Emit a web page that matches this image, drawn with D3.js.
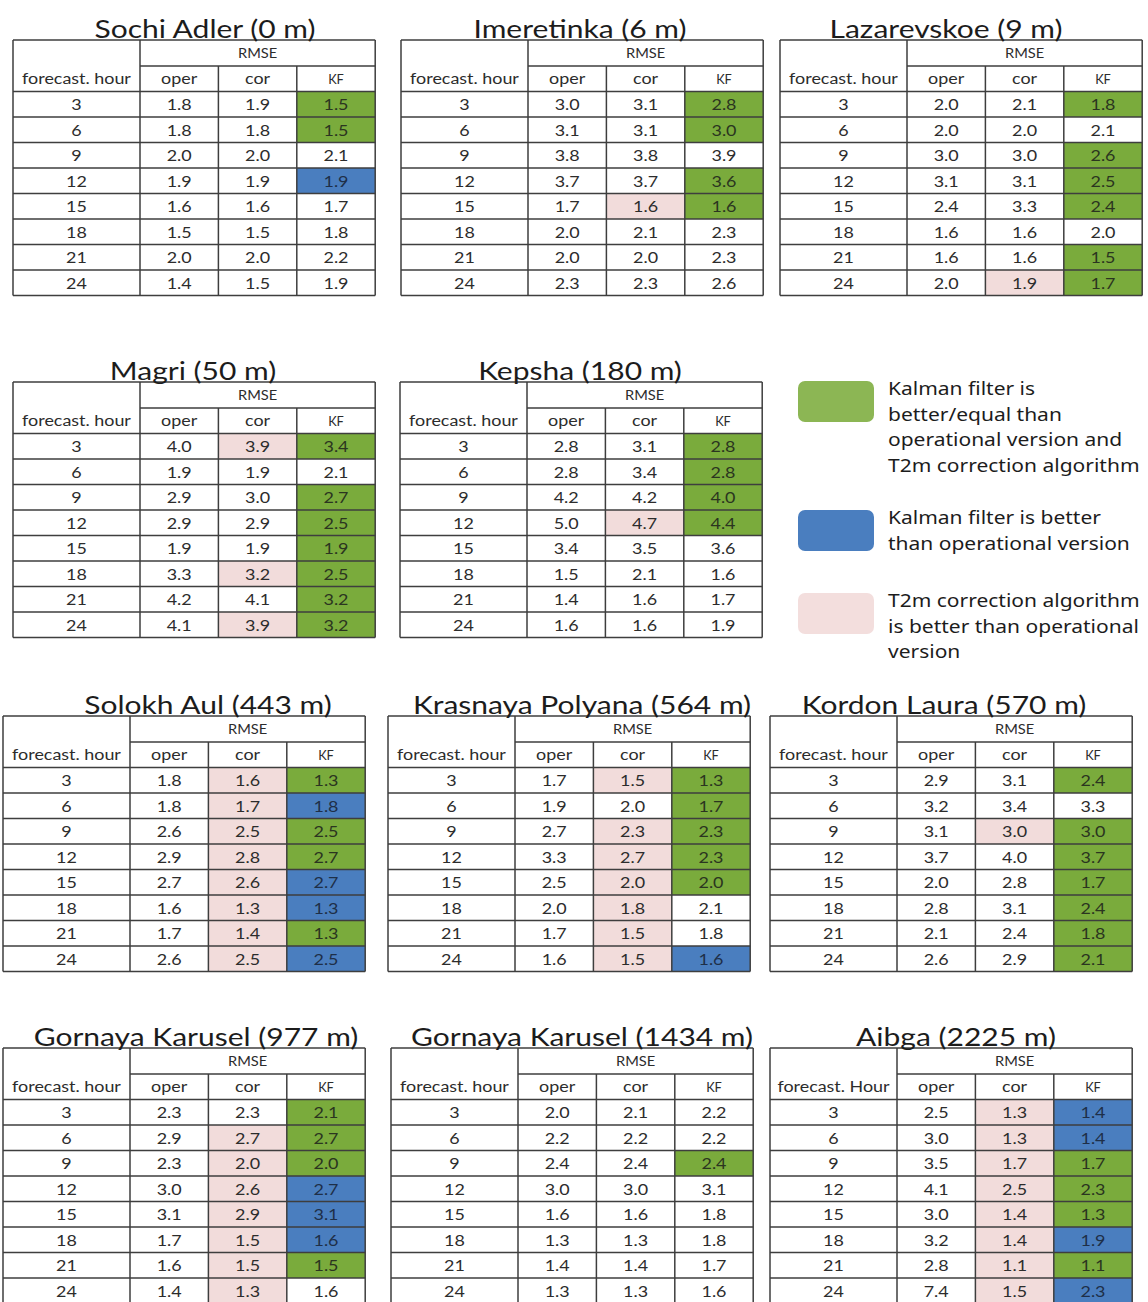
<!DOCTYPE html>
<html><head><meta charset="utf-8">
<script src="https://cdn.jsdelivr.net/npm/d3@7"></script>
<style>body{margin:0;background:#fff}svg{display:block}</style></head>
<body><svg id="c" width="1148" height="1302"></svg>
<script>
// ---------- DATA ----------
const stations = [
  "Sochi Adler (0 m)", "Imeretinka (6 m)", "Lazarevskoe (9 m)",
  "Magri (50 m)", "Kepsha (180 m)",
  "Solokh Aul (443 m)", "Krasnaya Polyana (564 m)", "Kordon Laura (570 m)",
  "Gornaya Karusel (977 m)", "Gornaya Karusel (1434 m)", "Aibga (2225 m)"
];
const hourHeaders = [
  "forecast. hour","forecast. hour","forecast. hour","forecast. hour","forecast. hour",
  "forecast. hour","forecast. hour","forecast. hour","forecast. hour","forecast. hour","forecast. Hour"
];
const hours = [3, 6, 9, 12, 15, 18, 21, 24];
const groupLabel = "RMSE";
const columns = ["oper", "cor", "KF"];

const operRMSE = [
  [1.8,1.8,2.0,1.9,1.6,1.5,2.0,1.4],
  [3.0,3.1,3.8,3.7,1.7,2.0,2.0,2.3],
  [2.0,2.0,3.0,3.1,2.4,1.6,1.6,2.0],
  [4.0,1.9,2.9,2.9,1.9,3.3,4.2,4.1],
  [2.8,2.8,4.2,5.0,3.4,1.5,1.4,1.6],
  [1.8,1.8,2.6,2.9,2.7,1.6,1.7,2.6],
  [1.7,1.9,2.7,3.3,2.5,2.0,1.7,1.6],
  [2.9,3.2,3.1,3.7,2.0,2.8,2.1,2.6],
  [2.3,2.9,2.3,3.0,3.1,1.7,1.6,1.4],
  [2.0,2.2,2.4,3.0,1.6,1.3,1.4,1.3],
  [2.5,3.0,3.5,4.1,3.0,3.2,2.8,7.4]
];
const corRMSE = [
  [1.9,1.8,2.0,1.9,1.6,1.5,2.0,1.5],
  [3.1,3.1,3.8,3.7,1.6,2.1,2.0,2.3],
  [2.1,2.0,3.0,3.1,3.3,1.6,1.6,1.9],
  [3.9,1.9,3.0,2.9,1.9,3.2,4.1,3.9],
  [3.1,3.4,4.2,4.7,3.5,2.1,1.6,1.6],
  [1.6,1.7,2.5,2.8,2.6,1.3,1.4,2.5],
  [1.5,2.0,2.3,2.7,2.0,1.8,1.5,1.5],
  [3.1,3.4,3.0,4.0,2.8,3.1,2.4,2.9],
  [2.3,2.7,2.0,2.6,2.9,1.5,1.5,1.3],
  [2.1,2.2,2.4,3.0,1.6,1.3,1.4,1.3],
  [1.3,1.3,1.7,2.5,1.4,1.4,1.1,1.5]
];
const kfRMSE = [
  [1.5,1.5,2.1,1.9,1.7,1.8,2.2,1.9],
  [2.8,3.0,3.9,3.6,1.6,2.3,2.3,2.6],
  [1.8,2.1,2.6,2.5,2.4,2.0,1.5,1.7],
  [3.4,2.1,2.7,2.5,1.9,2.5,3.2,3.2],
  [2.8,2.8,4.0,4.4,3.6,1.6,1.7,1.9],
  [1.3,1.8,2.5,2.7,2.7,1.3,1.3,2.5],
  [1.3,1.7,2.3,2.3,2.0,2.1,1.8,1.6],
  [2.4,3.3,3.0,3.7,1.7,2.4,1.8,2.1],
  [2.1,2.7,2.0,2.7,3.1,1.6,1.5,1.6],
  [2.2,2.2,2.4,3.1,1.8,1.8,1.7,1.6],
  [1.4,1.4,1.7,2.3,1.3,1.9,1.1,2.3]
];
// cell categories: G = KF better/equal than both, B = KF better than oper, P = cor better than oper
const corMarks = [
  "........", "....P...", ".......P", "P....P.P", "...P....",
  "PPPPPPPP", "P.PPPPPP", "..P.....", ".PPPPPPP", "........", "PPPPPPPP"
];
const kfMarks = [
  "GG.B....", "GG.GG...", "G.GGG.GG", "G.GGGGGG", "GGGG....",
  "GBGGBBGB", "GGGGG..B", "G.GGGGGG", "GGGBBBG.", "..G.....", "BBGGGBGB"
];
const legendKeys = ["G", "B", "P"];
const legendTexts = [
  ["Kalman filter  is", "better/equal than", "operational version and", "T2m correction algorithm"],
  ["Kalman filter  is better", "than operational version"],
  ["T2m correction algorithm", "is better than operational", "version"]
];

// ---------- STYLE / LAYOUT ----------
const cellFill = d3.scaleOrdinal().domain(["G","B","P","."]).range(["#7aab3c","#4a7ebf","#f2dcdb","none"]);
const legendFill = d3.scaleOrdinal().domain(legendKeys).range(["#8cb654","#4a7ebf","#f3dedd"]);
const tablePos = [
  [13,40],[401,40],[780,40],
  [13,382],[400,382],
  [3,716],[388,716],[770,716],
  [3,1048],[391,1048],[770,1048]
];
const titleCx = [205, 580, 946, 193, 580, 208, 582, 944, 196, 582, 956];
const firstW = 127, colW = 78.4, h1 = 26, h2 = 25.5, rowH = 25.5;
const tableW = firstW + colW * 3;
const lineColor = "#3e3e3e";
const textColor = "#2c2c2c";
const font = "Lato, 'Open Sans', sans-serif";
const titleSX = 1.2, bodySX = 1.12, legendSX = 1.18;

const svg = d3.select("#c");
svg.append("rect").attr("width",1148).attr("height",1302).attr("fill","#fff");

function stretchedText(parent, x, y, str, size, sx, anchor, fill, family) {
  return parent.append("text")
    .attr("transform", `translate(${x},${y}) scale(${sx},1)`)
    .attr("text-anchor", anchor || "middle")
    .attr("font-family", family || font)
    .attr("font-size", size)
    .attr("fill", fill || textColor)
    .text(str);
}

stations.forEach((name, si) => {
  const [tx, ty] = tablePos[si];
  const g = svg.append("g").attr("transform", `translate(${tx},${ty})`);
  const x = d3.scaleBand().domain(columns).range([firstW, tableW]);
  const y = d3.scaleBand().domain(hours).range([h1 + h2, h1 + h2 + rowH * hours.length]);
  const bottom = y.range()[1];
  const series = {oper: operRMSE[si], cor: corRMSE[si], KF: kfRMSE[si]};
  const marks = {oper: "........", cor: corMarks[si], KF: kfMarks[si]};

  // title
  stretchedText(svg, titleCx[si], ty - 2, name, 25, titleSX, "middle", "#1c1c1c");

  // cells
  const cells = [];
  columns.forEach(c => hours.forEach((h, i) => cells.push({c, h, v: series[c][i], m: marks[c][i]})));
  g.selectAll("rect.cell").data(cells.filter(d => d.m !== ".")).join("rect")
    .attr("class","cell")
    .attr("x", d => x(d.c)).attr("y", d => y(d.h))
    .attr("width", x.bandwidth()).attr("height", y.bandwidth())
    .attr("fill", d => cellFill(d.m));

  // grid lines
  const lines = [];
  lines.push([0,0,tableW,0],[0,bottom,tableW,bottom],[0,0,0,bottom],[tableW,0,tableW,bottom]);
  lines.push([firstW,h1,tableW,h1]);
  hours.forEach(h => lines.push([0,y(h),tableW,y(h)]));
  lines.push([firstW,0,firstW,bottom]);
  columns.slice(1).forEach(c => lines.push([x(c),h1,x(c),bottom]));
  g.selectAll("line").data(lines).join("line")
    .attr("x1",d=>d[0]).attr("y1",d=>d[1]).attr("x2",d=>d[2]).attr("y2",d=>d[3])
    .attr("stroke",lineColor).attr("stroke-width",1.5);

  // header texts
  stretchedText(g, firstW + colW * 1.5, h1 / 2 + 5, groupLabel, 14, 1.05);
  stretchedText(g, firstW / 2, h1 + h2 / 2 + 5.5, hourHeaders[si], 16, bodySX);
  columns.forEach(c => stretchedText(g, x(c) + x.bandwidth() / 2, h1 + h2 / 2 + 5.5, c,
    c === "KF" ? 13.5 : 16, c === "KF" ? 0.95 : bodySX));

  // hour labels
  hours.forEach(h => stretchedText(g, firstW / 2, y(h) + y.bandwidth() / 2 + 5.8, String(h), 16, bodySX));

  // values
  cells.forEach(d => stretchedText(g, x(d.c) + x.bandwidth() / 2, y(d.h) + y.bandwidth() / 2 + 5.8,
    d.v.toFixed(1), 16, bodySX, "middle",
    d.m === "B" ? "#1e2f48" : d.m === "G" ? "#2b3520" : textColor));
});

// ---------- LEGEND ----------
const legTop = [381, 510, 593];
const lg = svg.append("g");
legendKeys.forEach((k, i) => {
  lg.append("rect").attr("x", 798).attr("y", legTop[i]).attr("width", 76).attr("height", 41)
    .attr("rx", 7).attr("fill", legendFill(k));
  legendTexts[i].forEach((t, j) =>
    stretchedText(lg, 888, legTop[i] + 14 + j * 25.7, t, 17.8, legendSX, "start", "#1c1c1c",
      "'Noto Sans', 'Open Sans', sans-serif"));
});
</script>
</body></html>
